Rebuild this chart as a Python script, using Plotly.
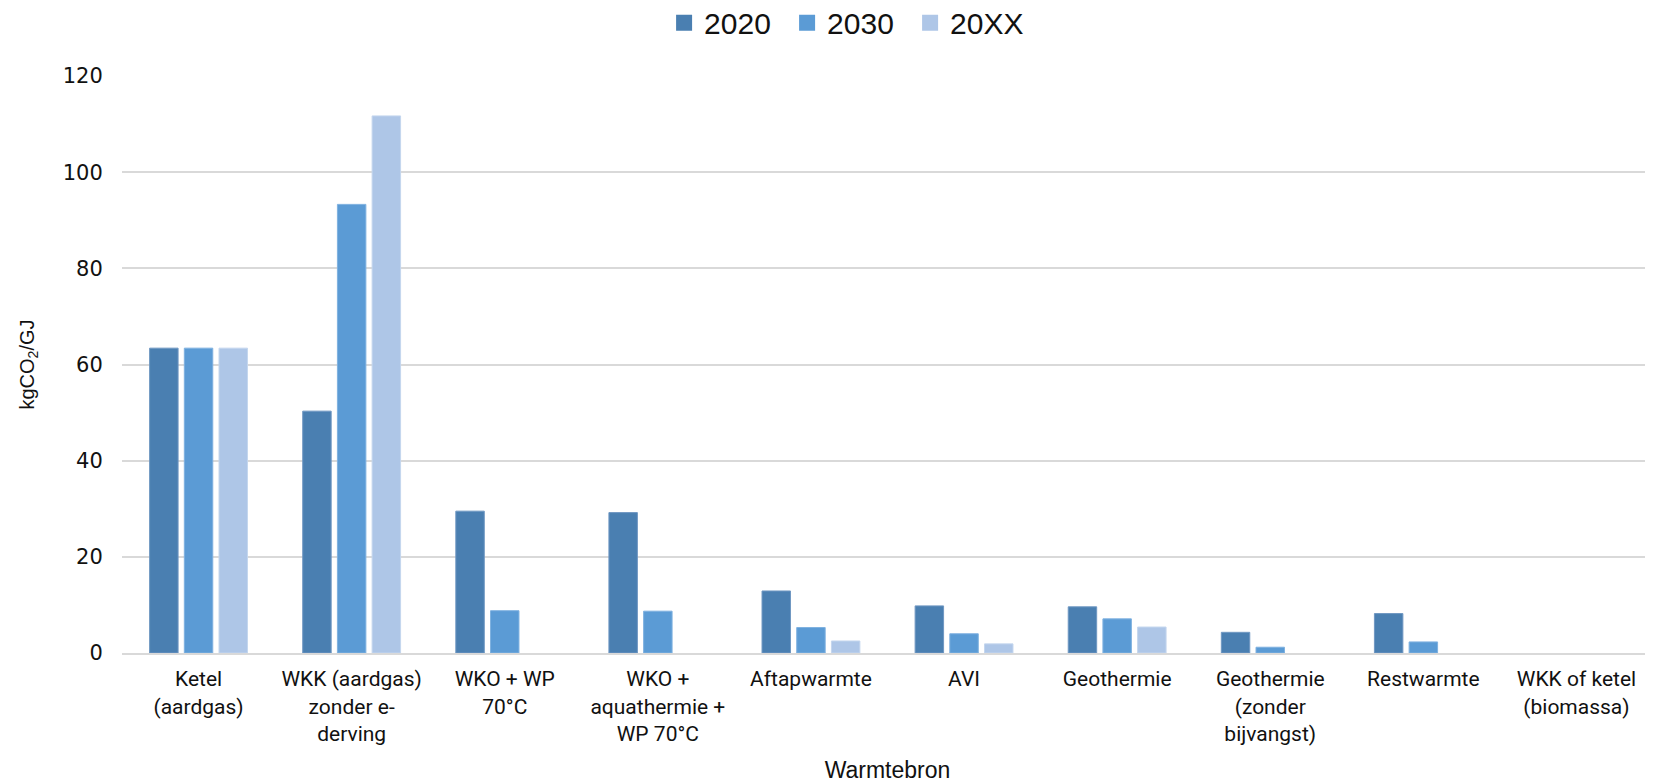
import plotly.graph_objects as go

categories = [
    "Ketel<br>(aardgas)",
    "WKK (aardgas)<br>zonder e-<br>derving",
    "WKO + WP<br>70°C",
    "WKO +<br>aquathermie +<br>WP 70°C",
    "Aftapwarmte",
    "AVI",
    "Geothermie",
    "Geothermie<br>(zonder<br>bijvangst)",
    "Restwarmte",
    "WKK of ketel<br>(biomassa)",
]
series_names = ["2020", "2030", "20XX"]
v2020 = [63.4, 50.3, 29.5, 29.2, 12.9, 9.8, 9.6, 4.3, 8.2, None]
v2030 = [63.4, 93.3, 8.8, 8.7, 5.3, 4.0, 7.1, 1.2, 2.3, None]
v20xx = [63.4, 111.7, None, None, 2.5, 1.9, 5.4, None, None, None]
yticks = [0, 20, 40, 60, 80, 100, 120]

colors = ["#4a7fb1", "#5b9bd5", "#aec6e7"]
lines = ["#6f97c2", "#7fb1e0", "#c4d6ee"]

fig = go.Figure()
for name, vals, c, lc in zip(series_names, [v2020, v2030, v20xx], colors, lines):
    fig.add_trace(go.Bar(
        x=categories, y=vals, name=name, showlegend=False,
        marker=dict(color=c, line=dict(color=lc, width=1)),
    ))
# legend entries with larger square swatches
for name, c in zip(series_names, colors):
    fig.add_trace(go.Scatter(
        x=[None], y=[None], name=name, mode="markers",
        marker=dict(symbol="square", size=16, color=c),
    ))

fig.update_layout(
    width=1645, height=775,
    margin=dict(l=114, r=0, t=68, b=130),
    paper_bgcolor="white", plot_bgcolor="white",
    barmode="group", bargap=0.32, bargroupgap=0.18,
    legend=dict(
        orientation="h", xref="container", x=0.511, xanchor="center",
        yref="container", y=0.981, yanchor="middle",
        font=dict(family="Liberation Sans, Arial, sans-serif", size=30, color="#111"),
        itemsizing="trace", traceorder="normal",
        entrywidth=78, entrywidthmode="pixels",
    ),
    xaxis=dict(
        type="category", automargin=False,
        tickfont=dict(family="Liberation Sans Narrow, Roboto, sans-serif", size=21, color="#111"),
        showline=True, linecolor="#d9d9d9", linewidth=2,
        ticks="outside", ticklen=6, tickcolor="rgba(0,0,0,0)",
        title=dict(text="Warmtebron", font=dict(family="Liberation Sans, Arial, sans-serif", size=23, color="#111"), standoff=20),
        tickangle=0,
    ),
    yaxis=dict(
        range=[0, 120], tickvals=yticks, automargin=False,
        tickfont=dict(family="DejaVu Sans, Verdana, sans-serif", size=21, color="#111"),
        gridcolor="#d9d9d9", gridwidth=1.5, zeroline=False,
        ticks="outside", ticklen=14, tickcolor="rgba(0,0,0,0)",
        title=dict(text="kgCO<sub>2</sub>/GJ", font=dict(family="Liberation Sans, Arial, sans-serif", size=20, color="#111"), standoff=22),
    ),
)

fig.write_html("out.html")
